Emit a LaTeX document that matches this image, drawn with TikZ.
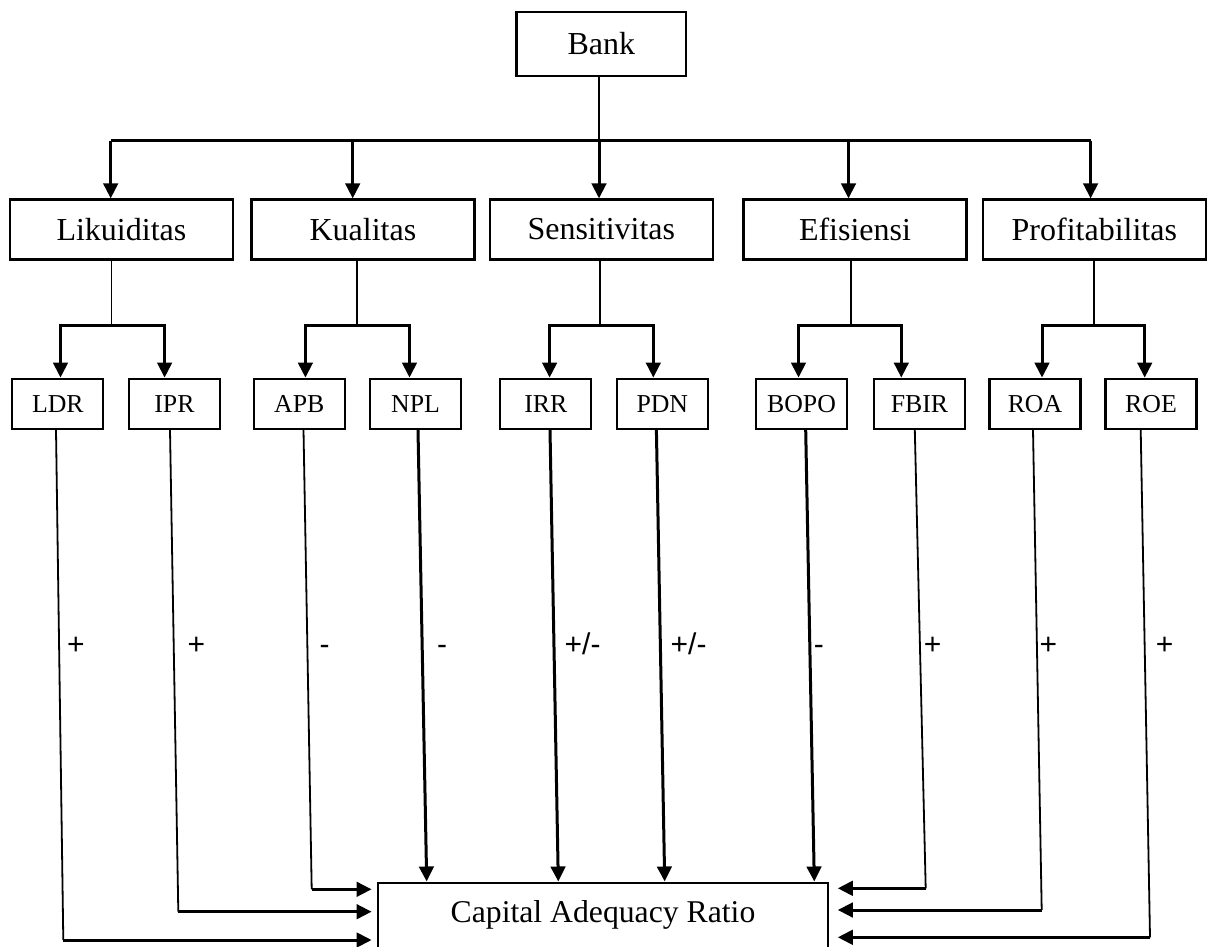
\documentclass[tikz,border=0pt]{standalone}
\usepackage{fontspec}
\setmainfont{Liberation Serif}
\newfontfamily\labfont{Liberation Sans}
\usetikzlibrary{arrows.meta,calc}
\begin{document}
\begin{tikzpicture}[x=1pt,y=-1pt,
 box/.style={draw, line width=2.2pt, inner sep=0pt, minimum height=60pt, minimum width=223pt, font=\fontsize{32}{36}\selectfont},
 sbox/.style={draw, line width=2.2pt, inner sep=0pt, minimum height=50pt, minimum width=91pt, font=\fontsize{25.8}{30}\selectfont},
 thinline/.style={line width=1.8pt},
 thickline/.style={line width=3pt},
 arr/.style={line width=3pt, -{Triangle[length=15pt,width=14.5pt]}},
 lab/.style={anchor=base west, inner sep=0pt, font=\labfont\fontsize{30}{34}\selectfont}
]
\useasboundingbox (0,0) rectangle (1207,947);
\clip (0,0) rectangle (1207,947);

% top level
\node[box, minimum width=169.5pt, minimum height=64pt] (bank) at (601.3,43.7) {Bank};
\node[box] (lik) at (121.4,229.5) {Likuiditas};
\node[box] (kua) at (362.9,229.5) {Kualitas};
\node[box] (sen) at (601.3,229.5) {Sensitivitas};
\node[box] (efi) at (855,229.5) {Efisiensi};
\node[box] (pro) at (1094.3,229.5) {Profitabilitas};

% third level
\node[sbox] (ldr) at (57.8,403.7) {LDR};
\node[sbox] (ipr) at (174.4,403.7) {IPR};
\node[sbox] (apb) at (299.3,403.7) {APB};
\node[sbox] (npl) at (415.5,403.7) {NPL};
\node[sbox] (irr) at (545.8,403.7) {IRR};
\node[sbox] (pdn) at (662.3,403.7) {PDN};
\node[sbox] (bopo) at (801.5,403.7) {BOPO};
\node[sbox] (fbir) at (919.5,403.7) {FBIR};
\node[sbox] (roa) at (1035,403.7) {ROA};
\node[sbox] (roe) at (1151,403.7) {ROE};

% result box
\node[draw, line width=2.2pt, inner sep=0pt, minimum width=450.6pt, text height=40.2pt, text depth=80pt, anchor=north, font=\fontsize{31.7}{36}\selectfont] (car) at (603,881.5) {Capital Adequacy Ratio};

% Bank to second level
\coordinate (hubL) at (110.7,141);
\coordinate (hk) at (352.7,141);
\coordinate (hub) at (599,141);
\coordinate (he) at (848.5,141);
\coordinate (hubR) at (1090.6,141);
\draw[thinline] (bank.south -| hub) -- (hub);
\draw[thickline] (hubL) -- (hubR);
\draw[arr] (hubL) -- (hubL |- lik.north);
\draw[arr] (hk) -- (hk |- kua.north);
\draw[arr] (hub) -- (hub |- sen.north);
\draw[arr] (he) -- (he |- efi.north);
\draw[arr] (hubR) -- (hubR |- pro.north);

% second to third level
\coordinate (d1) at (111.5,325);
\coordinate (a1) at (60.5,325);
\coordinate (b1) at (164.6,325);
\coordinate (d2) at (356.6,325);
\coordinate (a2) at (305.4,325);
\coordinate (b2) at (409.5,325);
\coordinate (d3) at (600,325);
\coordinate (a3) at (549.6,325);
\coordinate (b3) at (653.3,325);
\coordinate (d4) at (850.8,325);
\coordinate (a4) at (798.5,325);
\coordinate (b4) at (901.3,325);
\coordinate (d5) at (1094,325);
\coordinate (a5) at (1042,325);
\coordinate (b5) at (1144.7,325);

\draw[thinline] (lik.south -| d1) -- (d1);
\draw[arr] (d1) -- (a1) -- (a1 |- ldr.north);
\draw[arr] (d1) -- (b1) -- (b1 |- ipr.north);
\draw[thinline] (kua.south -| d2) -- (d2);
\draw[arr] (d2) -- (a2) -- (a2 |- apb.north);
\draw[arr] (d2) -- (b2) -- (b2 |- npl.north);
\draw[thinline] (sen.south -| d3) -- (d3);
\draw[arr] (d3) -- (a3) -- (a3 |- irr.north);
\draw[arr] (d3) -- (b3) -- (b3 |- pdn.north);
\draw[thinline] (efi.south -| d4) -- (d4);
\draw[arr] (d4) -- (a4) -- (a4 |- bopo.north);
\draw[arr] (d4) -- (b4) -- (b4 |- fbir.north);
\draw[thinline] (pro.south -| d5) -- (d5);
\draw[arr] (d5) -- (a5) -- (a5 |- roa.north);
\draw[arr] (d5) -- (b5) -- (b5 |- roe.north);

% third level to result
\coordinate (c1) at (63.3,940);
\coordinate (c2) at (178.3,911.7);
\coordinate (c3) at (311.7,889.3);
\coordinate (c5) at (925.7,888.3);
\coordinate (c6) at (1041.7,910);
\coordinate (c7) at (1150,937.3);

\draw[thinline] ([xshift=-1.8pt]ldr.south) -- (c1);
\draw[arr, shorten >=5pt] (c1) -- (c1 -| car.west);
\draw[thinline] ([xshift=-4.4pt]ipr.south) -- (c2);
\draw[arr, shorten >=5pt] (c2) -- (c2 -| car.west);
\draw[thinline] ([xshift=4.2pt]apb.south) -- (c3);
\draw[arr, shorten >=5pt] (c3) -- (c3 -| car.west);

\draw[arr] ([xshift=2.5pt]npl.south) -- ([xshift=-176.3pt]car.north);
\draw[arr] ([xshift=4.2pt]irr.south) -- ([xshift=-44.7pt]car.north);
\draw[arr] ([xshift=-5.9pt]pdn.south) -- ([xshift=61.7pt]car.north);
\draw[arr] ([xshift=4.2pt]bopo.south) -- ([xshift=211.3pt]car.north);

\draw[thinline] ([xshift=-4.7pt]fbir.south) -- (c5);
\draw[arr, shorten >=8.4pt] (c5) -- (c5 -| car.east);
\draw[thinline] ([xshift=-2pt]roa.south) -- (c6);
\draw[arr, shorten >=8.4pt] (c6) -- (c6 -| car.east);
\draw[thinline] ([xshift=-10.3pt]roe.south) -- (c7);
\draw[arr, shorten >=8.4pt] (c7) -- (c7 -| car.east);

% signs
\node[lab] (s1) at (67,654) {+};
\node[lab] (s2) at (187.5,654) {+};
\node[lab] (s3) at (319.5,654) {-};
\node[lab] (s4) at (437,654) {-};
\node[lab] (s5) at (564.5,654) {+/-};
\node[lab] (s6) at (670.5,654) {+/-};
\node[lab] (s7) at (813.7,654) {-};
\node[lab] (s8) at (923.6,654) {+};
\node[lab] (s9) at (1039.4,654) {+};
\node[lab] (s10) at (1155.6,654) {+};
\end{tikzpicture}
\end{document}
